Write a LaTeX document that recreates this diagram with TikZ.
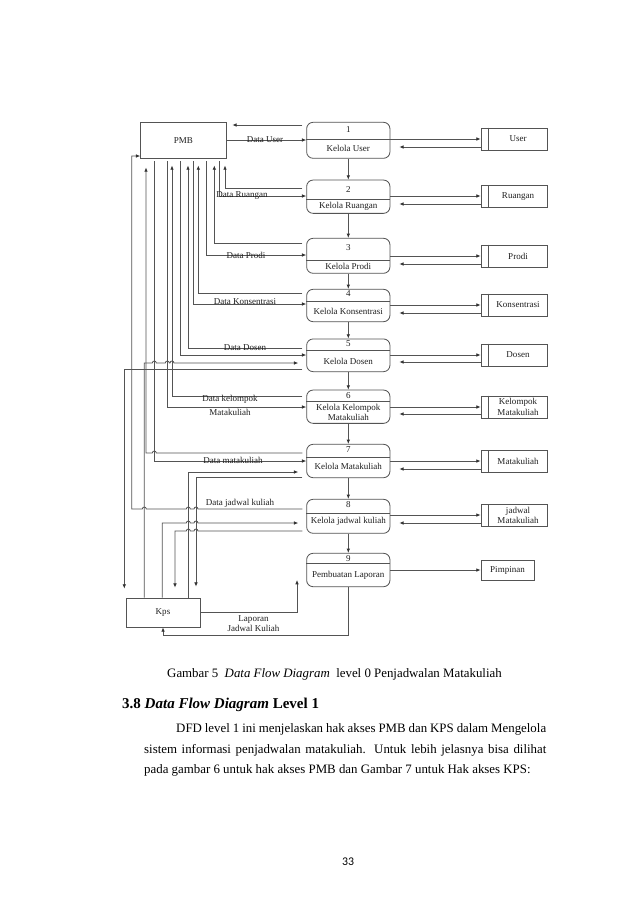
\documentclass[tikz,border=0pt]{standalone}
\usepackage{fontspec}
\setmainfont{Liberation Serif}
\newfontfamily\pagenumfont{Carlito}
\usetikzlibrary{arrows.meta,calc}
\newcommand\pxu{0.9325pt}
\definecolor{lnc}{gray}{0.33}
\definecolor{txc}{gray}{0.12}
\tikzset{
  wire/.style={draw=lnc, line width=0.75pt},
  flow/.style={wire, -{Latex[length=4pt,width=3.4pt,color=black!80]}},
  proc/.style={wire, rectangle, rounded corners=6pt, minimum width=83.3*\pxu, inner sep=0pt},
  ent/.style={wire, rectangle, inner sep=0pt, font=\fontsize{8.4}{9.5}\selectfont, text=txc},
  store/.style={wire, rectangle, minimum width=66*\pxu, minimum height=22*\pxu, inner sep=0pt},
  lbl/.style={font=\fontsize{8.4}{9.5}\selectfont, text=txc, inner sep=0pt, align=center},
  body/.style={anchor=base west, inner sep=0pt, font=\fontsize{12}{14}\selectfont},
  hopr/.style 2 args={insert path={-- (#1-2,#2) .. controls (#1-2,#2-2.6) and (#1+2,#2-2.6) .. (#1+2,#2)}},
  hopl/.style 2 args={insert path={-- (#1+2,#2) .. controls (#1+2,#2-2.6) and (#1-2,#2-2.6) .. (#1-2,#2)}},
}
\begin{document}
\begin{tikzpicture}[x=\pxu,y=-\pxu]
\fill[white] (0,0) rectangle (638,903);
\useasboundingbox (0,0) rectangle (638,903);

% external entities
\node[ent, minimum width=85.3*\pxu, minimum height=35.7*\pxu] (pmb) at (183.3,140.2) {PMB};
\node[ent, minimum width=74*\pxu, minimum height=29*\pxu] (kps) at (163,612.5) {Kps};

% processes
\foreach \i/\cy/\h in {1/140.3/36,2/196.7/33.3,3/255.8/35,4/305.5/32.4,5/355.3/32.7,6/406.7/33.3,7/461/33.4,8/516.3/34,9/570/33.4}
  \node[proc, minimum height=\h*\pxu] (p\i) at (348.3,\cy) {};
\foreach \i/\dy in {1/139,2/199,3/260,4/301.7,5/350.7,6/401.7,7/457.7,8/513,9/563.3}
  \draw[wire] (p\i.west |- 0,\dy) -- (p\i.east |- 0,\dy);
\foreach \i/\ny in {1/130,2/189.3,3/247.7,4/293.3,5/344,6/395.7,7/450,8/504.3,9/559}
  \node[lbl] (n\i) at (348.3,\ny) {\i};
\foreach \i/\ty/\t in {1/148.7/Kelola User,2/206.7/Kelola Ruangan,3/266.7/Kelola Prodi,4/311.7/Kelola Konsentrasi,5/361/Kelola Dosen,6/412.7/{Kelola Kelompok\\Matakuliah},7/466.7/Kelola Matakuliah,8/521/Kelola jadwal kuliah,9/575/Pembuatan Laporan}
  \node[lbl] (t\i) at (348.3,\ty) {\t};

% data stores
\foreach \i/\cy in {1/139,2/196.5,3/256,4/305,5/355,6/407,7/461.5,8/515.5}{
  \node[store] (s\i) at (514,\cy) {};
  \draw[wire] ([xshift=8*\pxu]s\i.north west) -- ([xshift=8*\pxu]s\i.south west);
}
\node[store, minimum width=53*\pxu, minimum height=20*\pxu] (s9) at (507.5,570) {};
\foreach \i/\cy/\t in {1/139/User,2/196.5/Ruangan,3/256/Prodi,4/305/Konsentrasi,5/355/Dosen,6/407/{Kelompok\\Matakuliah},7/461.5/Matakuliah,8/515.5/{jadwal\\Matakuliah}}
  \node[lbl] (st\i) at (518,\cy) {\t};
\node[lbl] (st9) at (s9) {Pimpinan};

% process chain
\foreach \i/\j in {1/2,2/3,3/4,4/5,5/6,6/7,7/8,8/9}
  \draw[flow] (p\i) -- (p\j);

% process <-> store
\foreach \i/\ya/\yb in {1/139/147,2/196/204,3/256/264,4/305/313,5/355/362,6/407/414,7/461/469,8/515/523}{
  \draw[flow] (p\i.east |- 0,\ya) -- (s\i.west |- 0,\ya);
  \draw[flow] (s\i.west |- 0,\yb) -- ($(p\i.east |- 0,\yb)+(9,0)$);
}
\draw[flow] (p9) -- (s9);

% PMB <-> process 1
\draw[flow] (pmb.east |- 0,140) -- (p1.west |- 0,140);
\draw[flow] ($(p1.west |- 0,125)+(-4,0)$) -- ($(pmb.east |- 0,125)+(6,0)$);

% PMB -> processes
\foreach \x/\y/\i in {219.3/196/2,206.7/255/3,193.3/304/4,180/355/5,167.3/407/6,154.3/461/7}
  \draw[flow] ($(pmb.south -| \x,0)+(0,3)$) |- (p\i.west |- 0,\y);
% processes -> PMB
\foreach \x/\y/\i in {225/188/2,214.3/243/3,198.3/293/4,188/348/5,172/396/6}
  \draw[flow] ($(p\i.west |- 0,\y)+(-4,0)$) -| ($(pmb.south -| \x,0)+(0,7)$);
\draw[flow] ($(p7.west |- 0,453)+(-4,0)$) [hopl={154.3}{453}] -| ($(pmb.south -| 146,0)+(0,9)$);
\draw[flow] ($(p8.west |- 0,509)+(-4,0)$) [hopl={196}{509}] [hopl={188.3}{509}] [hopl={144.3}{509}] -- (131.7,509) |- (pmb.west |- 0,156);

% Kps <-> processes
\draw[flow] ($(p5.west |- 0,369)+(-4,0)$) -| ($(kps.north -| 124.3,0)+(0,-9)$);
\draw[flow] (kps.north -| 144.3,0) -- (144.3,363) [hopr={154.3}{363}] [hopr={167.3}{363}] [hopr={172}{363}] -- ($(p5.west |- 0,363)+(-8,0)$);
\draw[flow] (kps.north -| 188.3,0) |- ($(p7.west |- 0,472)+(-8,0)$);
\draw[flow] ($(p7.west |- 0,477)+(-4,0)$) -| ($(kps.north -| 196,0)+(0,-11)$);
\draw[flow] (kps.north -| 162.3,0) -- (162.3,523) [hopr={188.3}{523}] [hopr={196}{523}] -- ($(p8.west |- 0,523)+(-8,0)$);
\draw[flow] ($(p8.west |- 0,531)+(-4,0)$) [hopl={196}{531}] [hopl={188.3}{531}] -| ($(kps.north -| 175,0)+(0,-10)$);

% report flows
\draw[flow] (p9.south) -- (348.3,635) -| (kps.south);
\coordinate (lapend) at (297,580);
\draw[flow] (kps.east) -| (lapend);

% flow labels
\node[lbl] (lu) at (265,140) {Data User};
\node[lbl] (lr) at (242,196) {Data Ruangan};
\node[lbl] (lp) at (246,255) {Data Prodi};
\node[lbl] (lk) at (245,302) {Data Konsentrasi};
\node[lbl] (ld) at (245,348) {Data Dosen};
\node[lbl, font=\fontsize{8.4}{13.5}\selectfont] (lkm) at (230,405.5) {Data kelompok\\Matakuliah};
\node[lbl] (lm) at (233,460) {Data matakuliah};
\node[lbl] (lj) at (240,503) {Data jadwal kuliah};
\node[lbl, font=\fontsize{8.4}{9.5}\selectfont] (llap) at (253.5,623.5) {Laporan\\Jadwal Kuliah};

% page text
\node[body] (cap) at (167,677) {Gambar 5\ \ \textit{Data Flow Diagram}\ \ level 0 Penjadwalan Matakuliah};
\node[body, font=\fontsize{14}{16}\selectfont\bfseries] (hd) at (122,708) {3.8 \textit{Data Flow Diagram} Level 1};
\node[body] (b1) at (176,732) {\makebox[345pt][s]{DFD level 1 ini menjelaskan hak akses PMB dan KPS dalam Mengelola}};
\node[body] (b2) at (144,753) {\makebox[375pt][s]{sistem informasi penjadwalan matakuliah. Untuk lebih jelasnya bisa dilihat}};
\node[body] (b3) at (144,773) {pada gambar 6 untuk hak akses PMB dan Gambar 7 untuk Hak akses KPS:};
\node[font=\pagenumfont\fontsize{11}{13}\selectfont, inner sep=0pt] (pg) at (348,862) {33};
\end{tikzpicture}
\end{document}
